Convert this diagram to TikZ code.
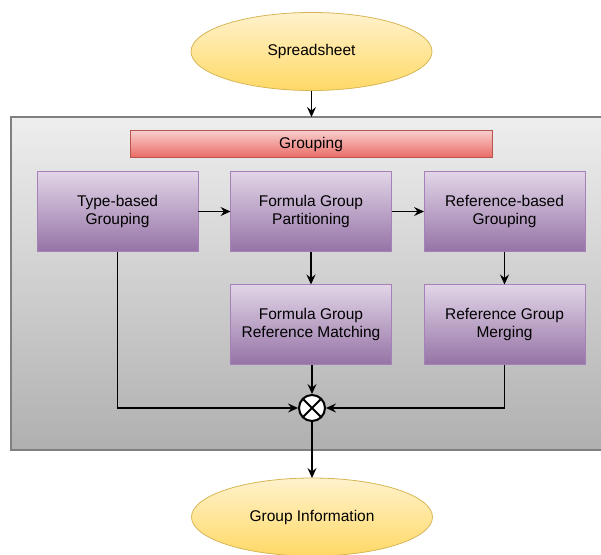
\documentclass[tikz,border=0pt]{standalone}
\usepackage{fontspec}
\setmainfont{Liberation Sans}
\usetikzlibrary{arrows.meta,shapes.geometric}

\definecolor{ytop}{HTML}{FFF2CC}
\definecolor{ybot}{HTML}{FFD966}
\definecolor{yline}{HTML}{D6B656}
\definecolor{rtop}{HTML}{F8CECC}
\definecolor{rbot}{HTML}{EA6B66}
\definecolor{rline}{HTML}{B85450}
\definecolor{ptop}{HTML}{E1D5E7}
\definecolor{pbot}{HTML}{9673A6}
\definecolor{pline}{HTML}{A680B8}
\definecolor{gtop}{HTML}{EEEEEE}
\definecolor{gbot}{HTML}{B0B0B0}
\definecolor{gline}{HTML}{808080}

\tikzset{
  txt/.style={font=\fontsize{15.5}{18.5}\selectfont, align=center, text=black},
  terminal/.style={txt, ellipse, draw=yline, line width=0.8pt, top color=ytop, bottom color=ybot,
    minimum width=241pt, minimum height=78pt, inner sep=0pt, outer sep=0pt},
  stage/.style={txt, rectangle, draw=pline, line width=1pt, top color=ptop, bottom color=pbot,
    minimum width=161pt, minimum height=80pt, inner sep=0pt, outer sep=0pt},
  banner/.style={txt, rectangle, draw=rline, line width=1pt, top color=rtop, bottom color=rbot,
    minimum width=362pt, minimum height=27pt, inner sep=0pt, outer sep=0pt},
  frame/.style={rectangle, draw=gline, line width=1.3pt, top color=gtop, bottom color=gbot,
    minimum width=591pt, minimum height=333pt, inner sep=0pt, outer sep=0pt},
  merge/.style={circle, draw=black, line width=2pt, fill=white, minimum size=26pt, inner sep=0pt,
    path picture={\draw[line width=2pt] (path picture bounding box.north west) -- (path picture bounding box.south east)
      (path picture bounding box.north east) -- (path picture bounding box.south west);}},
  arr/.style={draw=black, line width=1.2pt, -{Stealth[length=10pt,width=9pt,inset=3.5pt]}},
}

\begin{document}
\begin{tikzpicture}[x=1pt,y=-1pt]
\useasboundingbox (0,0) rectangle (601,554);

% grouping frame
\node[frame] (grp) at (306.5,283.5) {};

% start and end terminals
\node[terminal] (sheet) at (311.5,51.5) {Spreadsheet};
\node[terminal] (info) at (312,517) {Group Information};

% heading bar
\node[banner] (head) at (311,144) {Grouping};

% processing stages
\node[stage] (type) at (117.5,211.5) {Type-based\\Grouping};
\node[stage] (part) at (311,211.5) {Formula Group\\Partitioning};
\node[stage] (refg) at (504.5,211.5) {Reference-based\\Grouping};
\node[stage] (match) at (311,324.5) {Formula Group\\Reference Matching};
\node[stage] (mergeref) at (504.5,324.5) {Reference Group\\Merging};

% merge junction
\node[merge] (x) at (312,408) {};

% connectors
\draw[arr] (sheet.south) -- (sheet.south |- grp.north);
\draw[arr] (type.east) -- (part.west);
\draw[arr] (part.east) -- (refg.west);
\draw[arr] (part.south) -- (match.north);
\draw[arr] (refg.south) -- (mergeref.north);
\draw[arr] (type.south) |- (x.west);
\draw[arr] (mergeref.south) |- (x.east);
\draw[arr] (match.south -| x.north) -- (x.north);
\draw[arr] (x.south) -- (info.north -| x.south);
\end{tikzpicture}
\end{document}
